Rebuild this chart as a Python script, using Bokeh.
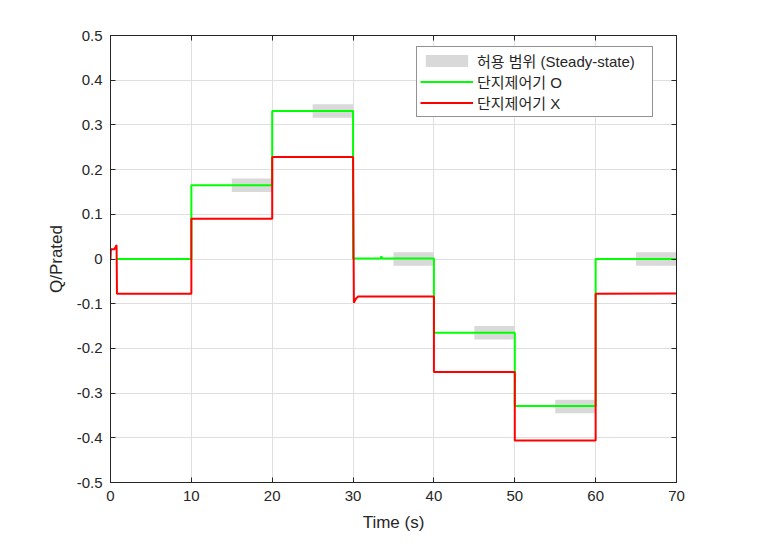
from bokeh.plotting import figure
from bokeh.models import Legend, LegendItem, LinearAxis, FixedTicker, Range1d
from bokeh.embed import file_html
from bokeh.resources import INLINE

# ---- data ----
green_t = [0.7, 10, 10, 20, 20, 30, 30, 33.4, 33.5, 33.6, 40, 40, 50, 50, 60, 60, 70]
green_q = [0.0, 0.0, 0.165, 0.165, 0.331, 0.331, 0.001, 0.001, 0.006, 0.001, 0.001,
           -0.165, -0.165, -0.329, -0.329, 0.0, 0.0]

red_t = [0.0, 0.05, 0.5, 0.7, 0.75, 0.8, 10, 10, 20, 20, 30, 30.1, 30.3, 30.6, 40, 40,
         50, 50, 60, 60, 70]
red_q = [0.0, 0.022, 0.022, 0.03, 0.03, -0.078, -0.078, 0.09, 0.09, 0.228, 0.228,
         -0.098, -0.09, -0.084, -0.084, -0.253, -0.253, -0.406, -0.406, -0.078, -0.077]

band_start = [15, 25, 35, 45, 55, 65]
band_end = [20, 30, 40, 50, 60, 70]
band_center = [0.165, 0.331, 0.0, -0.165, -0.33, 0.0]
band_half = [0.015, 0.015, 0.015, 0.015, 0.015, 0.015]

x_ticks = [0, 10, 20, 30, 40, 50, 60, 70]
y_ticks = [-0.5, -0.4, -0.3, -0.2, -0.1, 0, 0.1, 0.2, 0.3, 0.4, 0.5]
y_tick_labels = ["-0.5", "-0.4", "-0.3", "-0.2", "-0.1", "0", "0.1", "0.2", "0.3", "0.4", "0.5"]

labels = ["허용 범위 (Steady-state)", "단지제어기 O", "단지제어기 X"]

FONT = "Liberation Sans"
TXT = "#262626"

p = figure(width=743, height=540, output_backend="svg", toolbar_location=None,
           x_range=Range1d(0, 70), y_range=Range1d(-0.5, 0.5),
           min_border_left=110, min_border_right=67, min_border_top=35, min_border_bottom=58)
p.outline_line_color = TXT
p.outline_line_width = 1

bands = p.quad(left=band_start, right=band_end,
               bottom=[c - h for c, h in zip(band_center, band_half)],
               top=[c + h for c, h in zip(band_center, band_half)],
               fill_color="#d9d9d9", line_color=None)
gl = p.line(green_t, green_q, line_color="#00ff00", line_width=2)
rl = p.line(red_t, red_q, line_color="#ff0000", line_width=2)

for ax in (p.xaxis[0], p.yaxis[0]):
    ax.major_tick_in = 5
    ax.major_tick_out = 0
    ax.minor_tick_line_color = None
    ax.axis_line_color = TXT
    ax.major_tick_line_color = TXT
    ax.major_label_text_font = FONT
    ax.major_label_text_font_size = "15px"
    ax.major_label_text_color = TXT
    ax.axis_label_text_font = FONT
    ax.axis_label_text_font_size = "17px"
    ax.axis_label_text_font_style = "normal"
    ax.axis_label_text_color = TXT

p.xaxis.ticker = FixedTicker(ticks=x_ticks)
p.yaxis.ticker = FixedTicker(ticks=y_ticks)
p.yaxis.major_label_overrides = {t: l for t, l in zip(y_ticks, y_tick_labels)}
p.xaxis.axis_label = "Time (s)"
p.yaxis.axis_label = "Q/Prated"
p.xaxis.major_label_standoff = 8
p.yaxis.major_label_standoff = 8
p.xaxis.axis_label_standoff = 9
p.yaxis.axis_label_standoff = 8

for loc, tk in (("right", y_ticks), ("above", x_ticks)):
    a = LinearAxis(ticker=FixedTicker(ticks=tk), major_tick_in=5, major_tick_out=0,
                   minor_tick_line_color=None, major_label_text_color=None,
                   major_label_text_font_size="8px",
                   axis_line_color=TXT, major_tick_line_color=TXT)
    p.add_layout(a, loc)

p.grid.grid_line_color = "#dfdfdf"
p.grid.grid_line_width = 1
p.xgrid.ticker = FixedTicker(ticks=x_ticks)
p.ygrid.ticker = FixedTicker(ticks=y_ticks)

legend = Legend(items=[LegendItem(label=labels[0], renderers=[bands]),
                       LegendItem(label=labels[1], renderers=[gl]),
                       LegendItem(label=labels[2], renderers=[rl])],
                location=(306, 365))
legend.glyph_width = 53
legend.glyph_height = 15
legend.label_text_font = "Liberation Sans, 'Noto Sans CJK KR'"
legend.label_text_font_size = "15px"
legend.label_text_color = TXT
legend.label_height = 18
legend.label_width = 172
legend.spacing = 0
legend.padding = 3
legend.margin = 0
legend.label_standoff = 4
legend.border_line_color = TXT
legend.border_line_width = 1
legend.background_fill_color = "white"
legend.background_fill_alpha = 1
p.add_layout(legend)

open("out.html", "w").write(file_html(p, INLINE))
